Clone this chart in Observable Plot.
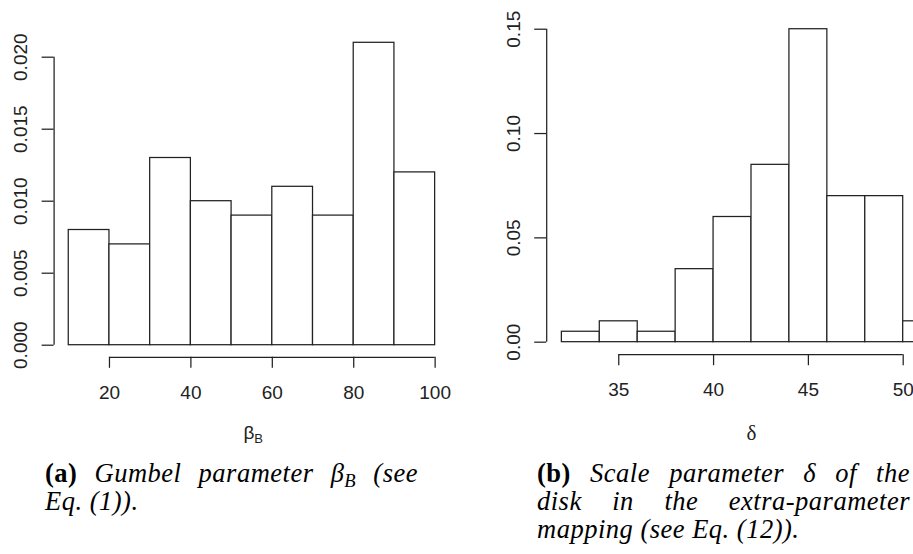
<!DOCTYPE html>
<html>
<head>
<meta charset="utf-8">
<script src="https://cdn.jsdelivr.net/npm/d3@7"></script>
<script src="https://cdn.jsdelivr.net/npm/@observablehq/plot@0.6"></script>
<style>
  html, body { margin: 0; padding: 0; background: #fff; }
  #root { position: relative; width: 913px; height: 554px; overflow: hidden; background: #fff; }
  .panel { position: absolute; top: 0; }
  .panel svg { max-width: none !important; }
  .cap { position: absolute; font-family: "Liberation Serif", "Times New Roman", serif; font-size: 26.5px; line-height: 28px; letter-spacing: 0.5px; color: #000; white-space: nowrap; }
  .cap .ln { display: block; height: 28px; }
  .cap .just { text-align: justify; text-align-last: justify; white-space: normal; }
  .cap b { font-style: normal; font-weight: bold; }
  .cap i { font-style: italic; }
  .cap sub { font-size: 0.7em; line-height: 0; vertical-align: -0.25em; }
</style>
</head>
<body>
<div id="root">
  <div id="left" class="panel" style="left:0px; width:460px;"></div>
  <div id="right" class="panel" style="left:460px; width:500px;"></div>
  <div class="cap" style="left:45px; top:459px; width:373px;">
    <span class="ln just"><b>(a)</b> <i>Gumbel parameter β<sub>B</sub> (see</i></span>
    <span class="ln"><i>Eq. (1)).</i></span>
  </div>
  <div class="cap" style="left:537px; top:459px; width:373px;">
    <span class="ln just"><b>(b)</b> <i>Scale parameter δ of the</i></span>
    <span class="ln just"><i>disk in the extra-parameter</i></span>
    <span class="ln"><i>mapping (see Eq. (12)).</i></span>
  </div>
</div>
<script>
// ---- data: panel (a) Gumbel parameter beta_B ----
const betaBreaks  = [10, 20, 30, 40, 50, 60, 70, 80, 90, 100];
const betaDensity = [0.008, 0.007, 0.013, 0.010, 0.009, 0.011, 0.009, 0.021, 0.012];
const betaXTicks  = [20, 40, 60, 80, 100];
const betaYTicks  = [0, 0.005, 0.010, 0.015, 0.020];

// ---- data: panel (b) scale parameter delta ----
const deltaBreaks  = [32, 34, 36, 38, 40, 42, 44, 46, 48, 50, 52];
const deltaDensity = [0.005, 0.010, 0.005, 0.035, 0.060, 0.085, 0.150, 0.070, 0.070, 0.010];
const deltaXTicks  = [35, 40, 45, 50];
const deltaYTicks  = [0, 0.05, 0.10, 0.15];

const INK = "#222";
const LW = 1.25;

function hist({breaks, density, xTicks, yTicks, yFmt, width, height, margins, label}) {
  const bins = density.map((d, i) => ({x1: breaks[i], x2: breaks[i + 1], y: d}));
  // R-style 4% axis extension
  const x0 = breaks[0], x1 = breaks[breaks.length - 1];
  const xPad = 0.04 * (x1 - x0);
  const yMax = d3.max(density);
  const yPad = 0.04 * yMax;
  const xDom = [x0 - xPad, x1 + xPad];
  const yDom = [0 - yPad, yMax + yPad];
  return Plot.plot({
    width, height,
    marginLeft: margins[0], marginRight: margins[1], marginTop: margins[2], marginBottom: margins[3],
    style: {fontFamily: "'Liberation Sans', Arial, sans-serif", fontSize: "19px", color: INK, background: "transparent", overflow: "visible", maxWidth: "none"},
    x: {domain: xDom, label: null},
    y: {domain: yDom, label: null},
    marks: [
      Plot.rect(bins, {x1: "x1", x2: "x2", y1: () => 0, y2: "y", fill: "white", stroke: INK, strokeWidth: LW}),
      // y axis: line spanning first..last tick, ticks, rotated labels
      Plot.ruleX([xDom[0]], {x: d => d, y1: () => yTicks[0], y2: () => yTicks[yTicks.length - 1], stroke: INK, strokeWidth: LW}),
      Plot.axisY(yTicks, {anchor: "left", tickSize: 12, tickFormat: () => "", label: null, stroke: INK, strokeWidth: LW}),
      Plot.text(yTicks, {y: d => d, frameAnchor: "left", text: d => yFmt(d), rotate: -90, dx: -33, textAnchor: "middle", lineAnchor: "middle", fontSize: 19, fill: INK}),
      // x axis: line spanning first..last tick, ticks, labels
      Plot.ruleY([yDom[0]], {y: d => d, x1: () => xTicks[0], x2: () => xTicks[xTicks.length - 1], stroke: INK, strokeWidth: LW}),
      Plot.axisX(xTicks, {anchor: "bottom", tickSize: 11, tickPadding: 17, fontSize: 19, label: null, stroke: INK, strokeWidth: LW, fill: INK}),
      ...label
    ]
  });
}

const left = hist({
  breaks: betaBreaks, density: betaDensity, xTicks: betaXTicks, yTicks: betaYTicks,
  yFmt: d3.format(".3f"), width: 460, height: 450, margins: [53.6, 10.7, 30.2, 93.2],
  label: [
    Plot.text(["β"], {frameAnchor: "bottom", text: d => d, textAnchor: "end", lineAnchor: "top", dx: 2.4, dy: 68.5, fontSize: 19, fill: INK}),
    Plot.text(["B"], {frameAnchor: "bottom", text: d => d, textAnchor: "start", lineAnchor: "top", dx: 2.4, dy: 76, fontSize: 13, fill: INK})
  ]
});
document.getElementById("left").appendChild(left);

const right = hist({
  breaks: deltaBreaks, density: deltaDensity, xTicks: deltaXTicks, yTicks: deltaYTicks,
  yFmt: d3.format(".2f"), width: 500, height: 450, margins: [86.2, 4.2, 16.2, 95.8],
  label: [
    Plot.text(["δ"], {frameAnchor: "bottom", text: d => d, textAnchor: "middle", lineAnchor: "top", dy: 70, fontSize: 21, fill: INK, fontFamily: "'Liberation Serif', serif"})
  ]
});
document.getElementById("right").appendChild(right);
</script>
</body>
</html>
